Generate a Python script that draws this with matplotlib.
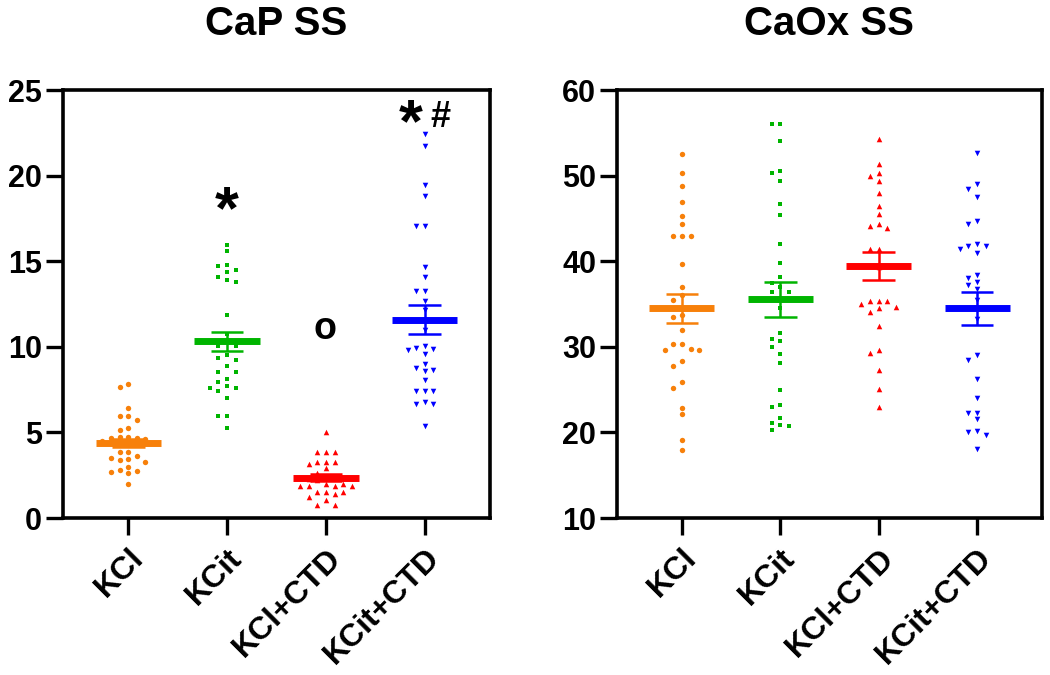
import matplotlib
matplotlib.use('Agg')
import matplotlib.pyplot as plt
import numpy as np

plt.rcParams['font.family'] = ['Liberation Sans', 'DejaVu Sans']
plt.rcParams['font.weight'] = 'bold'

# ---------------- data ----------------
groups = ['KCl', 'KCit', 'KCl+CTD', 'KCit+CTD']
colors = ['#F7800A', '#00B400', '#FF0000', '#0000FF']
markers = ['o', 's', '^', 'v']

cap_kcl = [7.84, 7.65, 6.45, 5.95, 5.95, 5.71, 5.24, 5.13, 4.75, 4.72, 4.70, 4.70, 4.6, 4.5,
           4.4, 4.3, 3.87, 3.85, 3.6, 3.5, 3.45, 3.4, 3.3, 2.98, 2.8, 2.75, 2.7, 2.6, 2.0]
cap_kcit = [15.96, 15.57, 14.8, 14.7, 14.46, 14.37, 14.07, 13.76, 13.88, 11.87, 10.76, 10.3,
            10.05, 10.05, 9.53, 9.35, 9.2, 8.85, 8.5, 8.5, 8.11, 7.97, 7.72, 7.62, 7.62, 7.44,
            7.0, 5.95, 5.95, 5.28]
cap_kcl_ctd = [5.05, 3.88, 3.88, 3.88, 3.29, 3.29, 3.29, 3.14, 2.9, 2.6, 2.45, 2.35, 2.3, 2.2,
               1.99, 1.99, 1.87, 1.87, 1.87, 1.87, 1.54, 1.54, 1.54, 1.4, 1.25, 1.05, 0.76, 0.76]
cap_kcit_ctd = [22.44, 21.75, 19.47, 18.83, 17.04, 17.04, 14.64, 14.07, 13.27, 13.27, 12.65,
                12.16, 11.0, 10.06, 9.82, 9.86, 9.59, 9.92, 8.99, 8.75, 8.61, 8.65, 8.07, 7.44,
                7.44, 7.44, 6.8, 6.67, 6.67, 5.4]
cap_means = [4.38, 10.31, 2.36, 11.58]
cap_sems = [0.25, 0.58, 0.20, 0.85]

cox_kcl = [52.47, 50.34, 48.78, 46.88, 45.28, 44.31, 42.95, 42.95, 42.95, 39.65, 36.93, 36.04,
           35.45, 33.7, 33.44, 32.0, 30.33, 30.33, 29.63, 29.63, 29.74, 28.35, 27.8, 25.86,
           25.16, 22.9, 22.13, 19.1, 17.97]
cox_kcit = [56.05, 56.05, 54.03, 50.52, 50.34, 49.36, 46.68, 45.36, 42.02, 39.77, 38.14, 37.4,
            36.93, 36.42, 36.42, 34.48, 31.64, 30.95, 30.68, 30.0, 29.12, 28.11, 24.96, 23.2,
            22.95, 21.67, 21.08, 20.89, 20.69, 20.3]
cox_kcl_ctd = [54.22, 51.39, 50.34, 49.95, 49.36, 48.0, 46.41, 45.56, 44.31, 44.16, 43.93,
               41.4, 41.4, 39.27, 35.34, 35.34, 35.34, 34.95, 34.68, 34.48, 34.09, 32.43,
               29.63, 29.31, 27.3, 25.05, 23.02]
cox_kcit_ctd = [52.63, 48.97, 48.47, 47.54, 44.7, 44.31, 41.98, 41.48, 41.78, 40.97, 41.78,
                38.37, 37.98, 37.52, 37.2, 36.7, 35.45, 33.2, 29.04, 28.46, 26.25, 24.0, 22.25,
                22.32, 21.55, 20.22, 19.72, 19.99, 18.09]
cox_means = [34.52, 35.54, 39.45, 34.48]
cox_sems = [1.70, 2.05, 1.60, 1.90]

cap_data = [cap_kcl, cap_kcit, cap_kcl_ctd, cap_kcit_ctd]
cox_data = [cox_kcl, cox_kcit, cox_kcl_ctd, cox_kcit_ctd]

# ---------------- figure ----------------
W, H = 1050, 675
fig = plt.figure(figsize=(W / 100, H / 100), dpi=100)
ax1 = fig.add_axes([63 / W, 1 - 518 / H, 427 / W, 428 / H])
ax2 = fig.add_axes([617 / W, 1 - 518 / H, 425 / W, 428 / H])


def swarm_x(ax, xc, vals, col_px=8.6, row_px=6.4):
    T = ax.transData
    px_x = T.transform((1, 0))[0] - T.transform((0, 0))[0]
    ys = T.transform(np.column_stack([np.full(len(vals), xc), vals]))[:, 1]
    order = np.argsort(-ys)
    placed = []
    xs = np.zeros(len(vals))
    for i in order:
        for k in [0, -1, 1, -2, 2, -3, 3, -4, 4, -5, 5]:
            if all(not (pk == k and abs(py - ys[i]) < row_px) for pk, py in placed):
                break
        placed.append((k, ys[i]))
        xs[i] = xc + k * col_px / px_x
    return xs


def panel(ax, data, means, sems, ylim, yticks, title):
    ax.set_xlim(-0.66, 3.66)
    ax.set_ylim(*ylim)
    for i, vals in enumerate(data):
        xs = swarm_x(ax, i, vals)
        s = {'o': 15, 's': 12, '^': 16, 'v': 16}[markers[i]]
        ax.scatter(xs, vals, marker=markers[i], s=s, color=colors[i], linewidths=0, zorder=3)
        ax.hlines(means[i], i - 0.33, i + 0.33, colors=colors[i], lw=5.0, zorder=4)
        ax.vlines(i, means[i] - sems[i], means[i] + sems[i], colors=colors[i], lw=1.8, zorder=4)
        ax.hlines([means[i] - sems[i], means[i] + sems[i]], i - 0.165, i + 0.165,
                  colors=colors[i], lw=1.8, zorder=4)
    ax.set_xticks(range(len(groups)))
    ax.set_xticklabels(groups, rotation=45, ha='right', va='top', rotation_mode='anchor',
                       fontsize=23, fontweight='bold')
    ax.set_yticks(yticks)
    ax.set_yticklabels([str(t) for t in yticks], fontsize=22, fontweight='bold')
    for sp in ax.spines.values():
        sp.set_linewidth(2.6)
    ax.tick_params(axis='both', direction='out', length=12, width=2.4, pad=3)
    ax.tick_params(axis='x', pad=6)
    ax.text(0.5, (518 - 35) / 428, title, transform=ax.transAxes, ha='center', va='baseline',
            fontsize=29, fontweight='bold')


panel(ax1, cap_data, cap_means, cap_sems, (0, 25), [0, 5, 10, 15, 20, 25], 'CaP SS')
panel(ax2, cox_data, cox_means, cox_sems, (10, 60), [10, 20, 30, 40, 50, 60], 'CaOx SS')

# significance marks (CaP panel)
ax1.annotate('*', xy=(1, 19.0), xytext=(0, -0.58 * 44), textcoords='offset points',
             ha='center', va='baseline', fontsize=44, fontweight='bold')
ax1.annotate('*', xy=(2.86, 24.1), xytext=(0, -0.58 * 44), textcoords='offset points',
             ha='center', va='baseline', fontsize=44, fontweight='bold')
ax1.annotate('#', xy=(3.16, 23.6), xytext=(0, -0.35 * 26), textcoords='offset points',
             ha='center', va='baseline', fontsize=26, fontweight='bold')
ax1.annotate('o', xy=(1.99, 11.0), xytext=(0, -0.26 * 27), textcoords='offset points',
             ha='center', va='baseline', fontsize=27, fontweight='bold')

fig.savefig('out.png', dpi=100)
